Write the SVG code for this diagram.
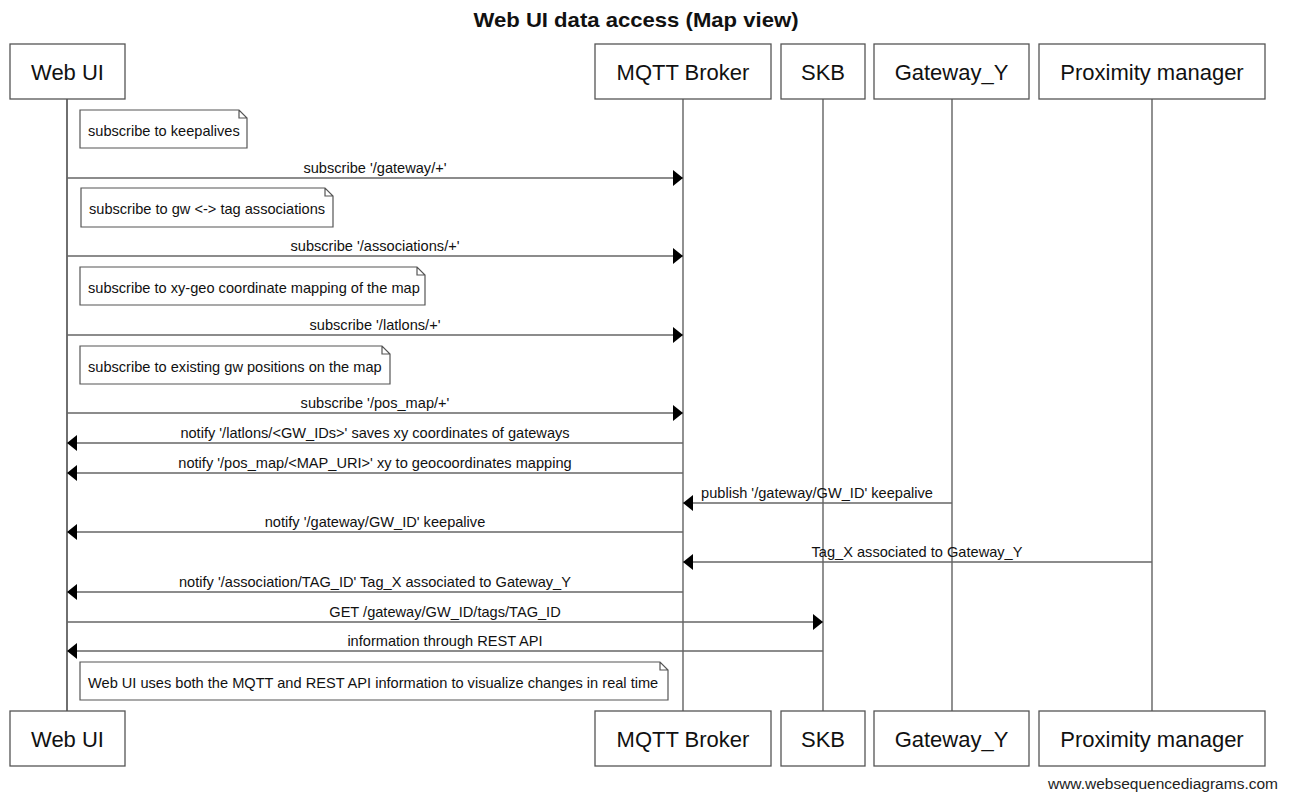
<svg xmlns="http://www.w3.org/2000/svg" width="1294" height="793" viewBox="0 0 1294 793">
  <style>
    text { font-family: "Liberation Sans", Arial, Helvetica, sans-serif; fill: #111; }
    .title { font-size: 21px; font-weight: bold; text-anchor: middle; }
    .actor rect { fill: #fff; stroke: #555; stroke-width: 1.3; }
    .actor text { font-size: 22px; text-anchor: middle; }
    .life { stroke: #555; stroke-width: 1.3; }
    .msg line { stroke: #666; stroke-width: 1.6; }
    .msg text { font-size: 14.6px; text-anchor: middle; }
    .note path { fill: #fff; stroke: #555; stroke-width: 1.2; }
    .note text { font-size: 14.6px; }
    .footer { font-size: 15.5px; text-anchor: end; fill: #222; }
  </style>
  <defs>
    <marker id="head" viewBox="0 0 10 16" markerWidth="10" markerHeight="16" refX="10" refY="8" orient="auto" markerUnits="userSpaceOnUse">
      <path d="M0,0 L10,8 L0,16 z" fill="#000"/>
    </marker>
  </defs>

  <rect width="1294" height="793" fill="#fff"/>
  <text class="title" x="636" y="27" textLength="325" lengthAdjust="spacingAndGlyphs">Web UI data access (Map view)</text>

  <!-- lifelines -->
  <g id="lifelines">
    <line class="life" x1="67" y1="99" x2="67" y2="711" style="stroke:#222"/>
    <line class="life" x1="683" y1="99" x2="683" y2="711"/>
    <line class="life" x1="823" y1="99" x2="823" y2="711"/>
    <line class="life" x1="952" y1="99" x2="952" y2="711"/>
    <line class="life" x1="1152" y1="99" x2="1152" y2="711"/>
  </g>

  <!-- participants, top and bottom -->
  <g id="webui" class="actor">
    <rect x="10" y="44" width="115" height="55"/>
    <text x="67.5" y="80">Web UI</text>
    <rect x="10" y="711" width="115" height="55"/>
    <text x="67.5" y="747">Web UI</text>
  </g>
  <g id="mqtt" class="actor">
    <rect x="595" y="44" width="176" height="55"/>
    <text x="683" y="80">MQTT Broker</text>
    <rect x="595" y="711" width="176" height="55"/>
    <text x="683" y="747">MQTT Broker</text>
  </g>
  <g id="skb" class="actor">
    <rect x="781" y="44" width="84" height="55"/>
    <text x="823" y="80">SKB</text>
    <rect x="781" y="711" width="84" height="55"/>
    <text x="823" y="747">SKB</text>
  </g>
  <g id="gateway" class="actor">
    <rect x="874" y="44" width="155" height="55"/>
    <text x="951.5" y="80">Gateway_Y</text>
    <rect x="874" y="711" width="155" height="55"/>
    <text x="951.5" y="747">Gateway_Y</text>
  </g>
  <g id="proximity" class="actor">
    <rect x="1039" y="44" width="226" height="55"/>
    <text x="1152" y="80">Proximity manager</text>
    <rect x="1039" y="711" width="226" height="55"/>
    <text x="1152" y="747">Proximity manager</text>
  </g>

  <!-- notes over Web UI -->
  <g id="note1" class="note">
    <path d="M80,110 H239 L247,118 V148 H80 Z M239,110 V118 H247"/>
    <text x="88" y="136">subscribe to keepalives</text>
  </g>
  <g id="note2" class="note">
    <path d="M81,188 H325 L333,196 V227 H81 Z M325,188 V196 H333"/>
    <text x="89" y="214">subscribe to gw &lt;-&gt; tag associations</text>
  </g>
  <g id="note3" class="note">
    <path d="M80,267 H417 L425,275 V305 H80 Z M417,267 V275 H425"/>
    <text x="88" y="293">subscribe to xy-geo coordinate mapping of the map</text>
  </g>
  <g id="note4" class="note">
    <path d="M80,346 H382 L390,354 V384 H80 Z M382,346 V354 H390"/>
    <text x="88" y="372">subscribe to existing gw positions on the map</text>
  </g>
  <g id="note5" class="note">
    <path d="M80,662 H660 L668,670 V700 H80 Z M660,662 V670 H668"/>
    <text x="88" y="688">Web UI uses both the MQTT and REST API information to visualize changes in real time</text>
  </g>

  <!-- messages -->
  <g id="connectors" class="msg">
    <line x1="67" y1="178" x2="683" y2="178" marker-end="url(#head)"/>
    <text x="375" y="173">subscribe '/gateway/+'</text>

    <line x1="67" y1="256" x2="683" y2="256" marker-end="url(#head)"/>
    <text x="375" y="251">subscribe '/associations/+'</text>

    <line x1="67" y1="335" x2="683" y2="335" marker-end="url(#head)"/>
    <text x="375" y="330">subscribe '/latlons/+'</text>

    <line x1="67" y1="413" x2="683" y2="413" marker-end="url(#head)"/>
    <text x="375" y="408">subscribe '/pos_map/+'</text>

    <line x1="683" y1="443" x2="67" y2="443" marker-end="url(#head)"/>
    <text x="375" y="438">notify '/latlons/&lt;GW_IDs&gt;' saves xy coordinates of gateways</text>

    <line x1="683" y1="473" x2="67" y2="473" marker-end="url(#head)"/>
    <text x="375" y="468">notify '/pos_map/&lt;MAP_URI&gt;' xy to geocoordinates mapping</text>

    <line x1="952" y1="503" x2="683" y2="503" marker-end="url(#head)"/>
    <text x="817" y="498">publish '/gateway/GW_ID' keepalive</text>

    <line x1="683" y1="532" x2="67" y2="532" marker-end="url(#head)"/>
    <text x="375" y="527">notify '/gateway/GW_ID' keepalive</text>

    <line x1="1152" y1="562" x2="683" y2="562" marker-end="url(#head)"/>
    <text x="917" y="557">Tag_X associated to Gateway_Y</text>

    <line x1="683" y1="592" x2="67" y2="592" marker-end="url(#head)"/>
    <text x="375" y="587">notify '/association/TAG_ID' Tag_X associated to Gateway_Y</text>

    <line x1="67" y1="622" x2="823" y2="622" marker-end="url(#head)"/>
    <text x="445" y="617">GET /gateway/GW_ID/tags/TAG_ID</text>

    <line x1="823" y1="651" x2="67" y2="651" marker-end="url(#head)"/>
    <text x="445" y="646">information through REST API</text>
  </g>

  <text class="footer" x="1278" y="789">www.websequencediagrams.com</text>
</svg>
